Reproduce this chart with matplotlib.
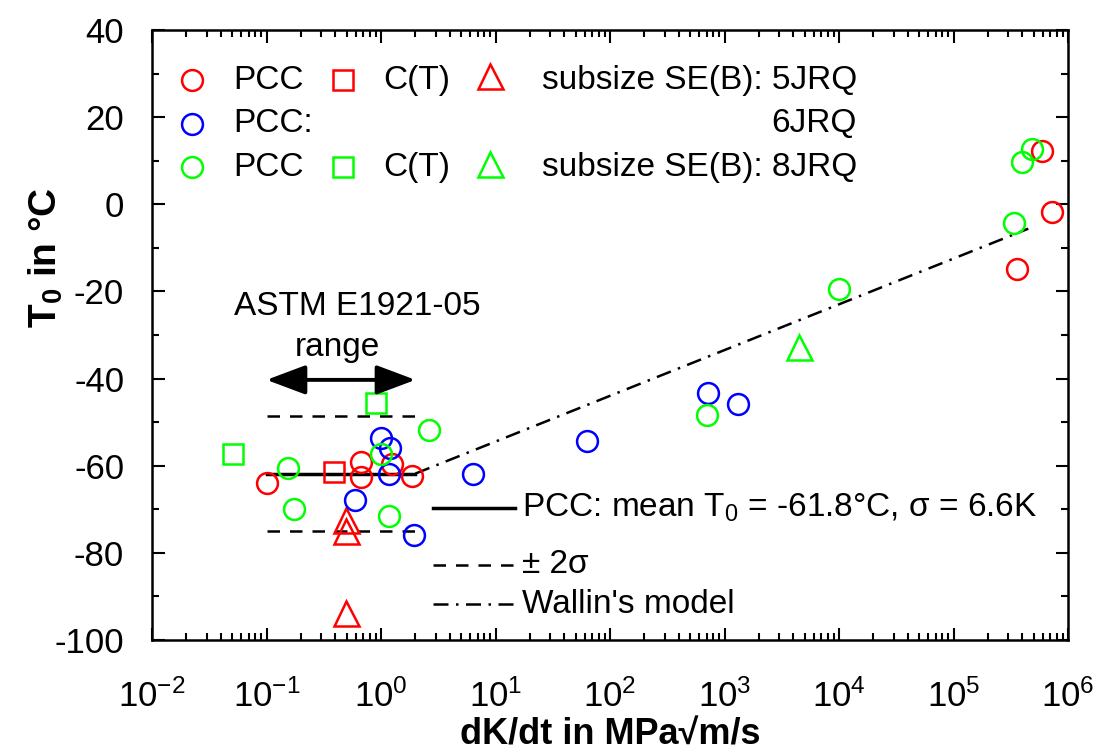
import matplotlib
matplotlib.use("Agg")
import matplotlib.pyplot as plt
from matplotlib.ticker import LogLocator, LogFormatterMathtext, MultipleLocator, NullFormatter
import numpy as np

plt.rcParams['font.family'] = ['Liberation Sans', 'DejaVu Sans']
plt.rcParams['mathtext.default'] = 'regular'
plt.rcParams['axes.unicode_minus'] = False

# ---- data ----
red_pcc_x = [0.1, 0.67, 0.67, 1.25, 1.86, 5.9e5, 7.3e5, 3.6e5]
red_pcc_y = [-64.0, -59.2, -62.5, -59.5, -62.3, 12.3, -1.8, -14.8]
red_ct_x = [0.39]
red_ct_y = [-61.5]
red_seb_x = [0.49, 0.49, 0.49]
red_seb_y = [-72.5, -75.0, -93.8]

blue_pcc_x = [1.0, 1.2, 1.17, 0.59, 1.95, 6.3, 63, 718, 1312]
blue_pcc_y = [-53.6, -56.0, -61.8, -67.8, -76.0, -62.0, -54.3, -43.3, -45.8]

green_pcc_x = [2.6, 0.155, 1.0, 0.174, 1.17, 700, 1.0e4, 3.4e5, 4.0e5, 4.8e5]
green_pcc_y = [-51.8, -60.6, -57.4, -70.0, -71.6, -48.3, -19.5, -4.3, 9.8, 12.7]
green_ct_x = [0.051, 0.91]
green_ct_y = [-57.3, -45.5]
green_seb_x = [4500]
green_seb_y = [-32.8]

mean_T0 = -61.8
sigma = 6.6
range_x = [0.1, 2.0]
wallin_x = [2.0, 4.5e5]
wallin_y = [-61.8, -5.6]

RED, BLUE, GREEN = '#ff0000', '#0000ff', '#00ff00'

fig = plt.figure(figsize=(10.98, 7.56), dpi=100)
ax = fig.add_axes([152/1098, 1-640/756, 916/1098, 610/756])

ms = 15
mew = 1.8
DASH = (0, (5, 4))
DASHDOT = (0, (6, 3, 1, 3))

def scat(x, y, m, c, size=ms):
    ax.plot(x, y, linestyle='none', marker=m, ms=size, mfc='none', mec=c, mew=mew, zorder=3)

ax.plot(range_x, [mean_T0]*2, color='black', lw=2.5, zorder=2)
ax.plot(range_x, [mean_T0 + 2*sigma]*2, color='black', lw=1.8, ls=DASH, zorder=2)
ax.plot(range_x, [mean_T0 - 2*sigma]*2, color='black', lw=1.8, ls=DASH, zorder=2)
ax.plot(wallin_x, wallin_y, color='black', lw=1.8, ls=DASHDOT, zorder=2)

scat(red_pcc_x, red_pcc_y, 'o', RED)
scat(red_ct_x, red_ct_y, 's', RED, 14)
scat(red_seb_x, red_seb_y, '^', RED, 18)
scat(blue_pcc_x, blue_pcc_y, 'o', BLUE)
scat(green_pcc_x, green_pcc_y, 'o', GREEN)
scat(green_ct_x, green_ct_y, 's', GREEN, 14)
scat(green_seb_x, green_seb_y, '^', GREEN, 18)

ax.set_xscale('log')
ax.set_xlim(1e-2, 1e6)
ax.set_ylim(-100, 40)
ax.xaxis.set_major_locator(LogLocator(base=10, numticks=20))
ax.xaxis.set_minor_locator(LogLocator(base=10, subs=np.arange(2, 10), numticks=100))
ax.xaxis.set_major_formatter(LogFormatterMathtext())
ax.xaxis.set_minor_formatter(NullFormatter())
ax.yaxis.set_major_locator(MultipleLocator(20))
ax.yaxis.set_minor_locator(MultipleLocator(10))

ax.tick_params(which='both', direction='in', top=True, right=True, width=1.5, labelsize=25)
ax.tick_params(which='major', length=9)
ax.tick_params(which='minor', length=5)
ax.tick_params(axis='x', which='major', pad=28)
ax.tick_params(axis='y', which='major', pad=20)
for s in ax.spines.values():
    s.set_linewidth(1.8)

ax.set_xlabel('dK/dt in MPa\u221am/s', fontsize=26, fontweight='bold', labelpad=3)
ax.set_ylabel('T$_0$ in \u00b0C', fontsize=28, fontweight='bold')
ax.yaxis.set_label_coords(-0.095, 0.627)

# upper legend (manual)
T = ax.transAxes
fs = 24
rows = [0.918, 0.846, 0.775]
mx_c, mx_s, mx_t = 0.0437, 0.2085, 0.369
ax.plot([mx_c], [rows[0]], 'o', transform=T, ms=ms, mfc='none', mec=RED, mew=mew)
ax.plot([mx_c], [rows[1]], 'o', transform=T, ms=ms, mfc='none', mec=BLUE, mew=mew)
ax.plot([mx_c], [rows[2]], 'o', transform=T, ms=ms, mfc='none', mec=GREEN, mew=mew)
ax.plot([mx_s], [rows[0]], 's', transform=T, ms=14, mfc='none', mec=RED, mew=mew)
ax.plot([mx_s], [rows[2]], 's', transform=T, ms=14, mfc='none', mec=GREEN, mew=mew)
ax.plot([mx_t], [rows[0] + 0.006], '^', transform=T, ms=18, mfc='none', mec=RED, mew=mew)
ax.plot([mx_t], [rows[2] + 0.006], '^', transform=T, ms=18, mfc='none', mec=GREEN, mew=mew)
ax.text(0.0884, rows[0], 'PCC', transform=T, fontsize=fs, va='center')
ax.text(0.0884, rows[1], 'PCC:', transform=T, fontsize=fs, va='center')
ax.text(0.0884, rows[2], 'PCC', transform=T, fontsize=fs, va='center')
ax.text(0.252, rows[0], 'C(T)', transform=T, fontsize=fs, va='center')
ax.text(0.252, rows[2], 'C(T)', transform=T, fontsize=fs, va='center')
ax.text(0.7697, rows[0], 'subsize SE(B): 5JRQ', transform=T, fontsize=fs, va='center', ha='right')
ax.text(0.7697, rows[1], '6JRQ', transform=T, fontsize=fs, va='center', ha='right')
ax.text(0.7697, rows[2], 'subsize SE(B): 8JRQ', transform=T, fontsize=fs, va='center', ha='right')

# lower legend
lrows = [0.216, 0.123, 0.059]
ax.plot([0.307, 0.396], [lrows[0]]*2, transform=T, color='black', lw=2.5)
ax.plot([0.307, 0.396], [lrows[1]]*2, transform=T, color='black', lw=1.8, ls=DASH)
ax.plot([0.307, 0.396], [lrows[2]]*2, transform=T, color='black', lw=1.8, ls=DASHDOT)
ax.text(0.404, lrows[0], 'PCC: mean T$_0$ = -61.8\u00b0C, \u03c3 = 6.6K', transform=T, fontsize=fs, va='center')
ax.text(0.404, lrows[1], '\u00b1 2\u03c3', transform=T, fontsize=fs, va='center')
ax.text(0.404, lrows[2], "Wallin's model", transform=T, fontsize=fs, va='center')

# ASTM range annotation
ax.annotate('', xy=(range_x[0], -40.3), xytext=(range_x[1], -40.3),
            arrowprops=dict(arrowstyle='<|-|>,head_length=0.8,head_width=0.3', color='black',
                            lw=2.8, mutation_scale=30, shrinkA=0, shrinkB=0))
ax.text(0.2238, 0.546, 'ASTM E1921-05', transform=T, fontsize=fs, ha='center', va='center')
ax.text(0.202, 0.479, 'range', transform=T, fontsize=fs, ha='center', va='center')

fig.savefig('out.png', dpi=100)
